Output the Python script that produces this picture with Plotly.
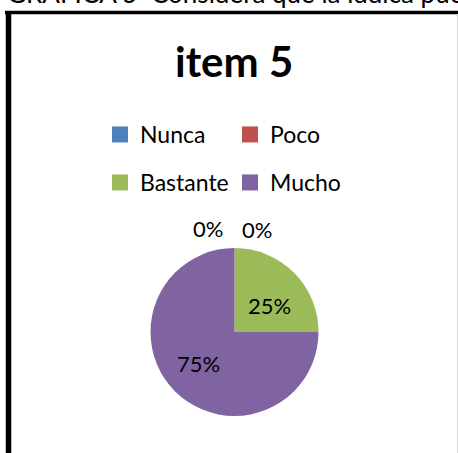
import plotly.graph_objects as go

W, H = 458, 453

categories = ["Nunca", "Poco", "Bastante", "Mucho"]
values = [0, 0, 25, 75]
colors = ["#4F81BD", "#C0504D", "#9BBB59", "#8064A2"]
title_text = "item 5"
caption_text = "GRÁFICA 5  Considera que la lúdica puede favorecer el aprendizaje"

FONT = "Lato"

def px_x(x):
    return x / W

def px_y(y):
    return 1 - y / H

total = sum(values)
pct = [round(v / total * 100) for v in values]
labels_text = [f"{p}%" for p in pct]

fig = go.Figure()

cx, cy, R = 234.5, 332, 84
fig.add_trace(go.Pie(
    labels=categories,
    values=values,
    marker=dict(colors=colors, line=dict(width=0)),
    sort=False,
    direction="clockwise",
    rotation=0,
    textinfo="none",
    showlegend=False,
    hoverinfo="label+percent",
    domain=dict(x=[px_x(cx - R), px_x(cx + R)], y=[px_y(cy + R), px_y(cy - R)]),
))

legend_ids = ["legend", "legend", "legend2", "legend2"]
for cat, col, lg in zip(categories, colors, legend_ids):
    fig.add_trace(go.Scatter(
        x=[None], y=[None], mode="markers", name=cat,
        marker=dict(symbol="square", size=16, color=col),
        legend=lg, showlegend=True,
    ))

annotations = []
label_pos = [(208, 228), (256.5, 229), (269.5, 305.5), (198, 363)]
for t, (lx, ly) in zip(labels_text, label_pos):
    annotations.append(dict(
        x=px_x(lx), y=px_y(ly), xref="paper", yref="paper",
        text=t, showarrow=False, xanchor="center", yanchor="middle",
        font=dict(family=FONT, size=22, color="#000000"),
    ))
annotations.append(dict(
    x=px_x(234), y=px_y(61), xref="paper", yref="paper",
    text=f"<b>{title_text}</b>", showarrow=False, xanchor="center", yanchor="middle",
    font=dict(family=FONT, size=42, color="#000000"),
))
annotations.append(dict(
    x=px_x(5), y=px_y(11), xref="paper", yref="paper",
    text=caption_text, showarrow=False, xanchor="left", yanchor="bottom",
    font=dict(family=FONT, size=26, color="#000000"),
))

shapes = [
    dict(type="line", xref="paper", yref="paper", x0=px_x(5), x1=px_x(460),
         y0=px_y(12.5), y1=px_y(12.5), line=dict(color="#000000", width=3.5)),
    dict(type="line", xref="paper", yref="paper", x0=px_x(8.5), x1=px_x(8.5),
         y0=px_y(11), y1=px_y(460), line=dict(color="#000000", width=5.5)),
    dict(type="line", xref="paper", yref="paper", x0=px_x(457.5), x1=px_x(457.5),
         y0=px_y(14), y1=px_y(460), line=dict(color="#D9D9D9", width=1)),
]

legend_common = dict(
    orientation="h", xanchor="left", yanchor="middle",
    entrywidth=85, entrywidthmode="pixels",
    font=dict(family=FONT, size=23, color="#000000"),
    bgcolor="rgba(0,0,0,0)", borderwidth=0,
    itemclick=False, itemdoubleclick=False,
)

fig.update_layout(
    width=W, height=H,
    margin=dict(l=0, r=0, t=0, b=0),
    paper_bgcolor="#FFFFFF", plot_bgcolor="#FFFFFF",
    xaxis=dict(visible=False, domain=[0, 0.01]),
    yaxis=dict(visible=False, domain=[0, 0.01]),
    legend=dict(x=px_x(100), y=px_y(134.5), **legend_common),
    legend2=dict(x=px_x(100), y=px_y(182.5), **legend_common),
    annotations=annotations,
    shapes=shapes,
    showlegend=True,
)

fig.write_html("out.html")
